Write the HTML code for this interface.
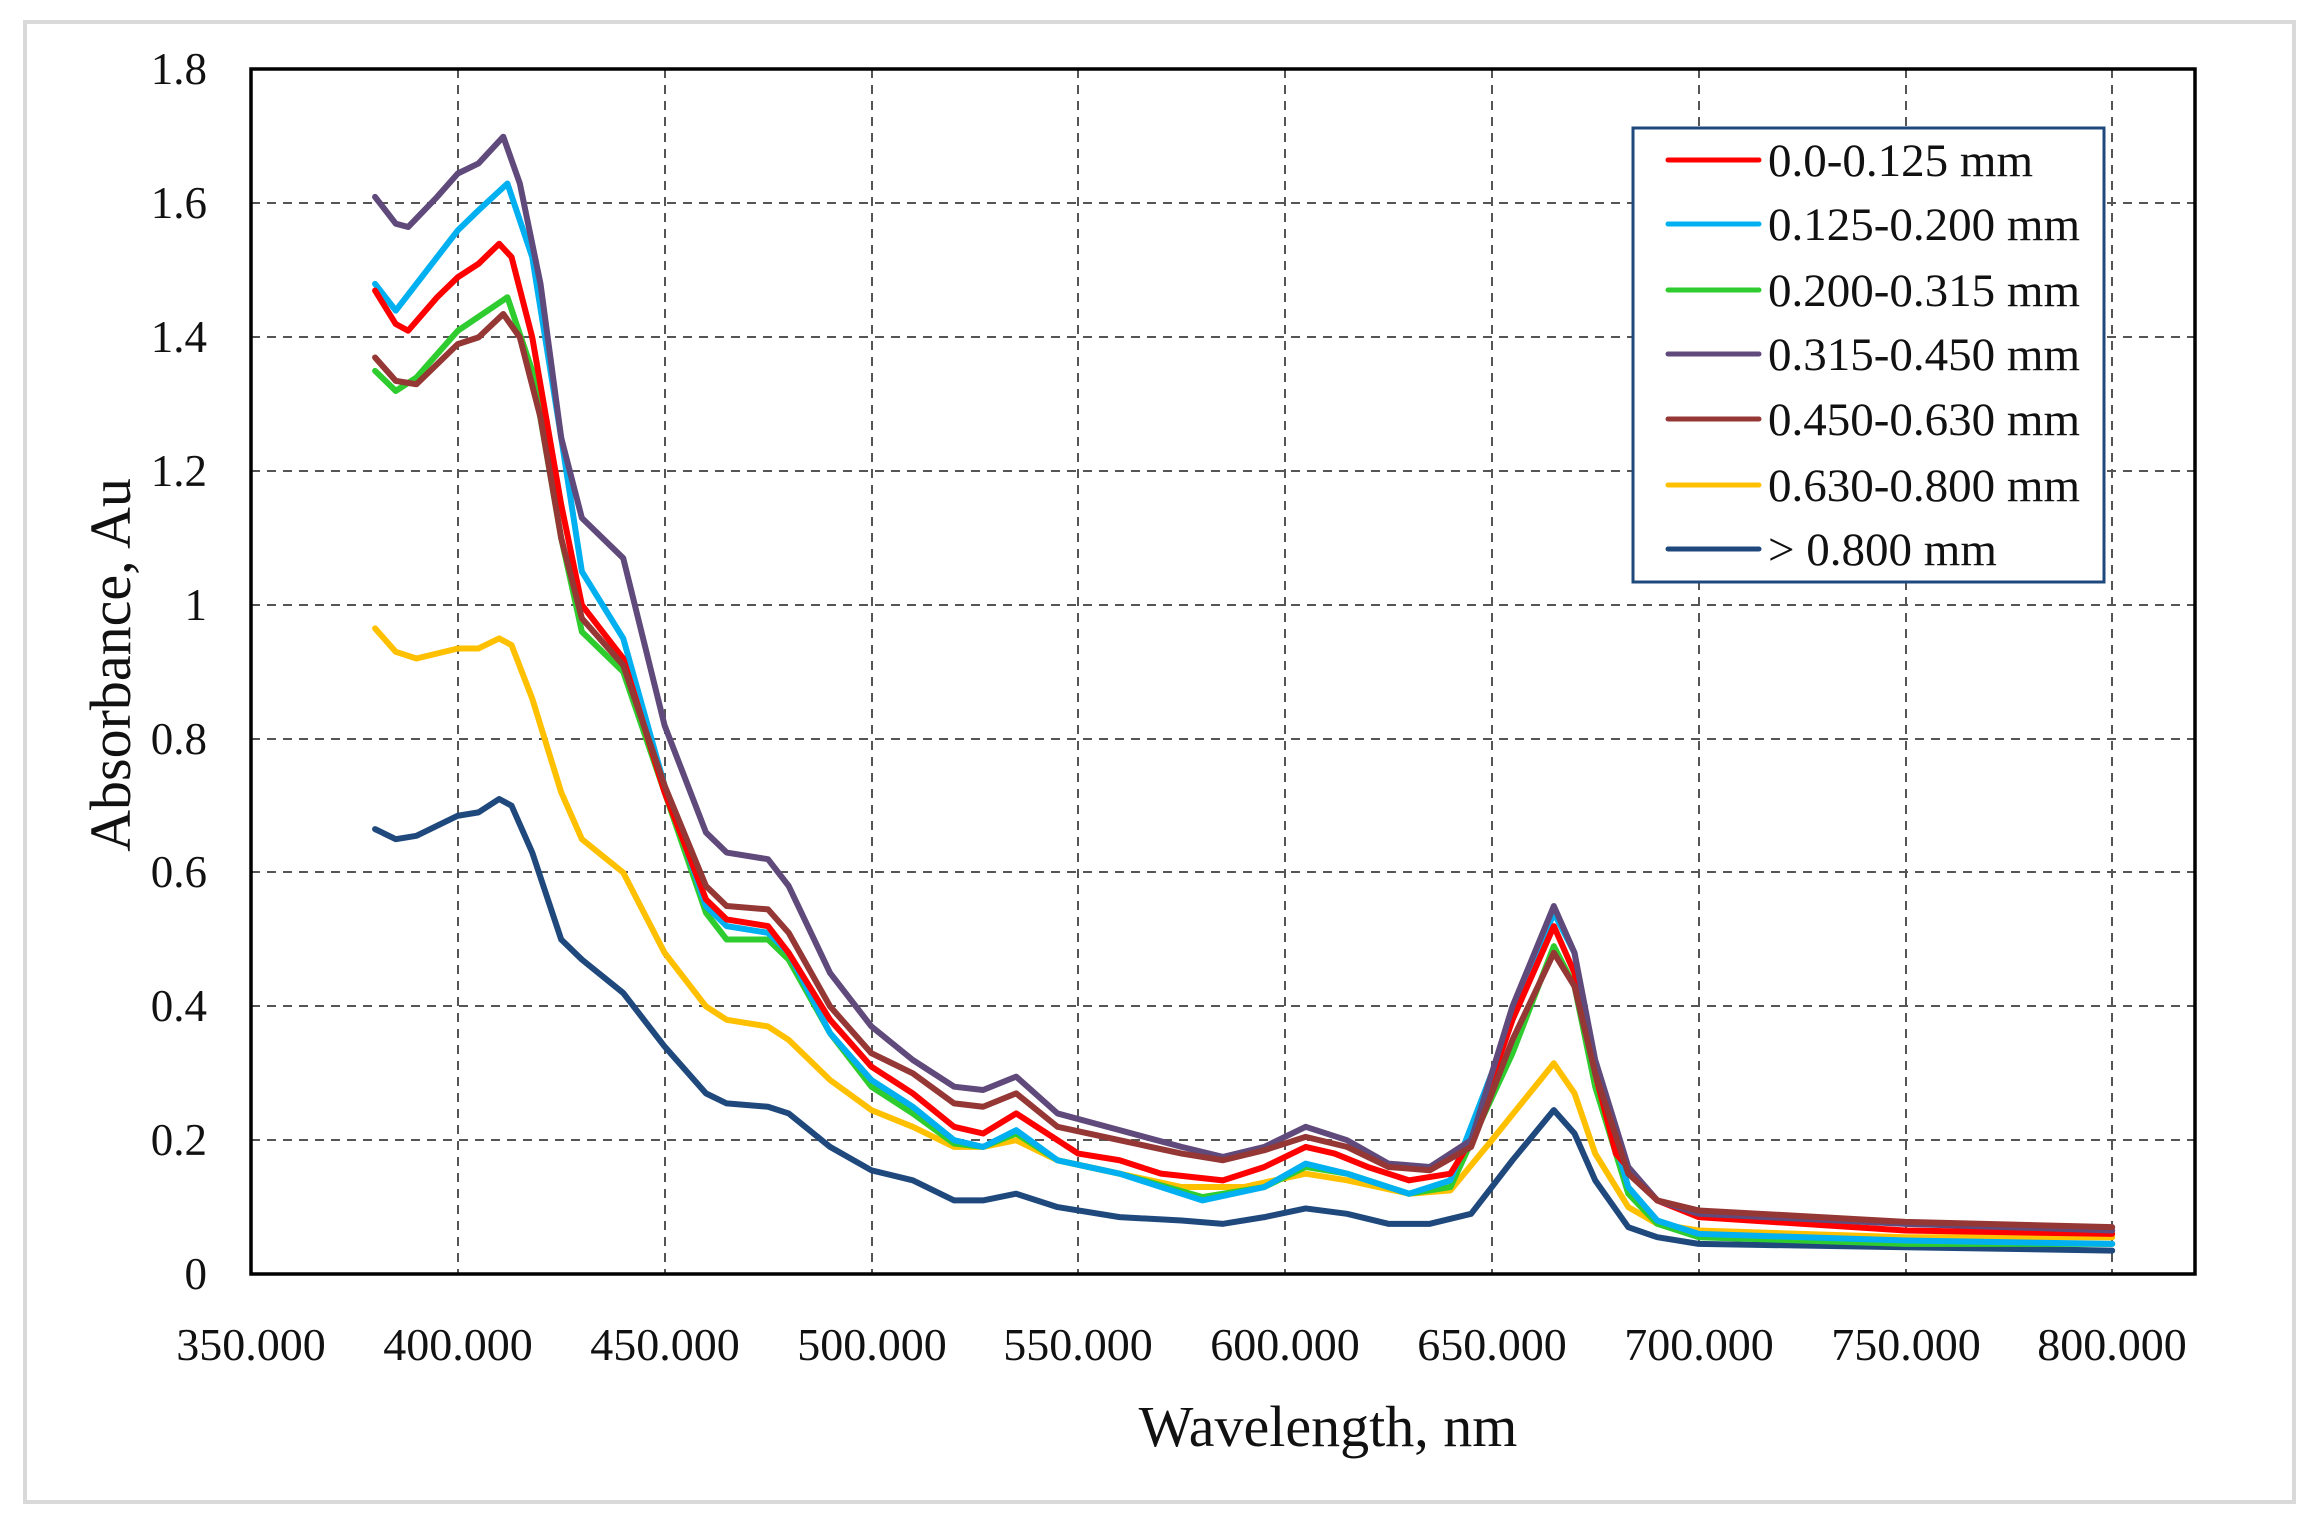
<!DOCTYPE html>
<html><head><meta charset="utf-8"><style>
html,body{margin:0;padding:0;background:#fff;}
svg{display:block;}
text{font-family:"Liberation Serif",serif;fill:#111;}
</style></head><body>
<svg width="2313" height="1524" viewBox="0 0 2313 1524" xmlns="http://www.w3.org/2000/svg">
<rect x="0" y="0" width="2313" height="1524" fill="#fff"/>
<rect x="25" y="22" width="2269" height="1480" fill="#fff" stroke="#d9d9d9" stroke-width="4"/>
<g stroke="#555" stroke-width="2" stroke-dasharray="9,7" fill="none">
<line x1="251" y1="1140" x2="2195" y2="1140"/>
<line x1="251" y1="1006" x2="2195" y2="1006"/>
<line x1="251" y1="872" x2="2195" y2="872"/>
<line x1="251" y1="739" x2="2195" y2="739"/>
<line x1="251" y1="605" x2="2195" y2="605"/>
<line x1="251" y1="471" x2="2195" y2="471"/>
<line x1="251" y1="337" x2="2195" y2="337"/>
<line x1="251" y1="203" x2="2195" y2="203"/>
<line x1="458" y1="69" x2="458" y2="1274"/>
<line x1="665" y1="69" x2="665" y2="1274"/>
<line x1="872" y1="69" x2="872" y2="1274"/>
<line x1="1078" y1="69" x2="1078" y2="1274"/>
<line x1="1285" y1="69" x2="1285" y2="1274"/>
<line x1="1492" y1="69" x2="1492" y2="1274"/>
<line x1="1699" y1="69" x2="1699" y2="1274"/>
<line x1="1906" y1="69" x2="1906" y2="1274"/>
<line x1="2112" y1="69" x2="2112" y2="1274"/>
</g>
<g transform="matrix(4.136,0,0,-669,-1196.6,1274)" fill="none" stroke-width="6" stroke-linejoin="round" stroke-linecap="round">
<polyline vector-effect="non-scaling-stroke" stroke="#ffc000" points="380,0.965 385,0.93 390,0.92 400,0.935 405,0.935 410,0.95 413,0.94 418,0.86 425,0.72 430,0.65 440,0.6 450,0.48 460,0.4 465,0.38 475,0.37 480,0.35 490,0.29 500,0.245 510,0.22 520,0.19 527,0.19 535,0.2 545,0.17 560,0.15 575,0.13 590,0.13 605,0.15 615,0.14 630,0.12 640,0.125 650,0.2 665,0.315 670,0.27 675,0.18 683,0.1 690,0.075 700,0.065 750,0.055 800,0.055"/>
<polyline vector-effect="non-scaling-stroke" stroke="#1f497d" points="380,0.665 385,0.65 390,0.655 400,0.685 405,0.69 410,0.71 413,0.7 418,0.63 425,0.5 430,0.47 440,0.42 450,0.34 460,0.27 465,0.255 475,0.25 480,0.24 490,0.19 500,0.155 510,0.14 520,0.11 527,0.11 535,0.12 545,0.1 560,0.085 575,0.08 585,0.075 595,0.085 605,0.098 615,0.09 625,0.075 635,0.075 645,0.09 655,0.17 665,0.245 670,0.21 675,0.14 683,0.07 690,0.055 700,0.045 750,0.04 800,0.035"/>
<polyline vector-effect="non-scaling-stroke" stroke="#2ecc2e" points="380,1.35 385,1.32 390,1.34 400,1.41 412,1.46 418,1.35 425,1.1 430,0.96 440,0.9 450,0.72 460,0.54 465,0.5 475,0.5 480,0.47 490,0.36 500,0.28 510,0.24 520,0.195 527,0.19 535,0.21 545,0.17 560,0.15 580,0.115 595,0.13 605,0.16 615,0.15 630,0.12 640,0.13 655,0.33 665,0.49 670,0.43 675,0.28 683,0.12 690,0.075 700,0.055 750,0.045 800,0.045"/>
<polyline vector-effect="non-scaling-stroke" stroke="#00b0f0" points="380,1.48 385,1.44 390,1.48 400,1.56 405,1.59 412,1.63 418,1.52 425,1.25 430,1.05 440,0.95 450,0.73 460,0.55 465,0.52 475,0.51 480,0.48 490,0.36 500,0.29 510,0.25 520,0.2 527,0.19 535,0.215 545,0.17 560,0.15 580,0.11 595,0.13 605,0.165 615,0.15 630,0.12 640,0.14 655,0.38 665,0.54 670,0.48 675,0.3 683,0.13 690,0.08 700,0.06 750,0.05 800,0.045"/>
<polyline vector-effect="non-scaling-stroke" stroke="#ff0000" points="380,1.47 385,1.42 388,1.41 395,1.46 400,1.49 405,1.51 410,1.54 413,1.52 418,1.4 425,1.15 430,1 440,0.92 450,0.72 460,0.56 465,0.53 475,0.52 480,0.48 490,0.38 500,0.31 510,0.27 520,0.22 527,0.21 535,0.24 540,0.22 550,0.18 560,0.17 570,0.15 585,0.14 595,0.16 605,0.19 612,0.18 620,0.16 630,0.14 640,0.15 645,0.2 655,0.38 665,0.52 670,0.45 675,0.3 680,0.18 690,0.11 700,0.085 750,0.065 800,0.06"/>
<polyline vector-effect="non-scaling-stroke" stroke="#604a7b" points="380,1.61 385,1.57 388,1.565 395,1.61 400,1.645 405,1.66 411,1.7 415,1.63 420,1.48 425,1.25 430,1.13 440,1.07 450,0.82 460,0.66 465,0.63 475,0.62 480,0.58 490,0.45 500,0.37 510,0.32 520,0.28 527,0.275 535,0.295 545,0.24 560,0.215 575,0.19 585,0.175 595,0.19 605,0.22 615,0.2 625,0.165 635,0.16 645,0.2 655,0.4 665,0.55 670,0.48 675,0.32 683,0.16 690,0.11 700,0.09 750,0.075 800,0.065"/>
<polyline vector-effect="non-scaling-stroke" stroke="#953735" points="380,1.37 385,1.335 390,1.33 400,1.39 405,1.4 411,1.435 415,1.4 420,1.28 425,1.1 430,0.98 440,0.91 450,0.73 460,0.58 465,0.55 475,0.545 480,0.51 490,0.4 500,0.33 510,0.3 520,0.255 527,0.25 535,0.27 545,0.22 560,0.2 575,0.18 585,0.17 595,0.185 605,0.205 615,0.19 625,0.16 635,0.155 645,0.19 655,0.35 665,0.48 670,0.43 675,0.3 683,0.15 690,0.11 700,0.095 750,0.078 800,0.07"/>
</g>
<rect x="251" y="69" width="1944" height="1205" fill="none" stroke="#000" stroke-width="3.5"/>
<g font-size="45" text-anchor="end">
<text x="207" y="1289">0</text>
<text x="207" y="1155">0.2</text>
<text x="207" y="1021">0.4</text>
<text x="207" y="887">0.6</text>
<text x="207" y="754">0.8</text>
<text x="207" y="620">1</text>
<text x="207" y="486">1.2</text>
<text x="207" y="352">1.4</text>
<text x="207" y="218">1.6</text>
<text x="207" y="84">1.8</text>
</g>
<g font-size="46" text-anchor="middle">
<text x="251" y="1360">350.000</text>
<text x="458" y="1360">400.000</text>
<text x="665" y="1360">450.000</text>
<text x="872" y="1360">500.000</text>
<text x="1078" y="1360">550.000</text>
<text x="1285" y="1360">600.000</text>
<text x="1492" y="1360">650.000</text>
<text x="1699" y="1360">700.000</text>
<text x="1906" y="1360">750.000</text>
<text x="2112" y="1360">800.000</text>
</g>
<text x="1328" y="1446" font-size="58" text-anchor="middle">Wavelength, nm</text>
<text transform="translate(130,665) rotate(-90)" font-size="58" text-anchor="middle">Absorbance, Au</text>
<rect x="1633" y="128" width="471" height="454" fill="#fff" stroke="#1f497d" stroke-width="3"/>
<g stroke-width="5" stroke-linecap="round">
<line x1="1668" y1="160" x2="1759" y2="160" stroke="#ff0000"/>
<line x1="1668" y1="224" x2="1759" y2="224" stroke="#00b0f0"/>
<line x1="1668" y1="290" x2="1759" y2="290" stroke="#2ecc2e"/>
<line x1="1668" y1="354" x2="1759" y2="354" stroke="#604a7b"/>
<line x1="1668" y1="419" x2="1759" y2="419" stroke="#953735"/>
<line x1="1668" y1="485" x2="1759" y2="485" stroke="#ffc000"/>
<line x1="1668" y1="549" x2="1759" y2="549" stroke="#1f497d"/>
</g>
<g font-size="47">
<text x="1768" y="176">0.0-0.125 mm</text>
<text x="1768" y="240">0.125-0.200 mm</text>
<text x="1768" y="306">0.200-0.315 mm</text>
<text x="1768" y="370">0.315-0.450 mm</text>
<text x="1768" y="435">0.450-0.630 mm</text>
<text x="1768" y="501">0.630-0.800 mm</text>
<text x="1768" y="565">&gt; 0.800 mm</text>
</g>
</svg>
</body></html>
